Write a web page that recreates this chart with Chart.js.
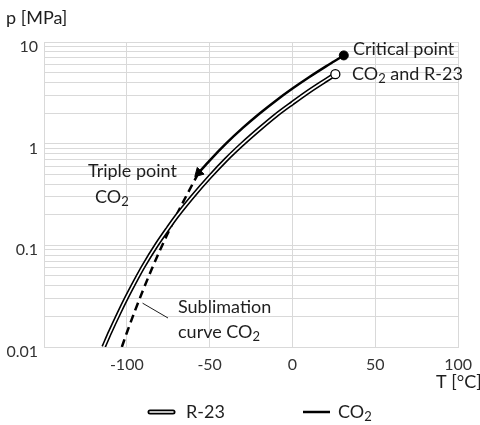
<!DOCTYPE html>
<html>
<head>
<meta charset="utf-8">
<script src="https://cdn.jsdelivr.net/npm/chart.js@4.4.1/dist/chart.umd.min.js"></script>
<style>
  body { margin: 0; background: #fff; }
</style>
</head>
<body>
<canvas id="chart" width="480" height="425"></canvas>
<script>
// vapour pressure curve R-23 (T in °C, p in MPa)
const r23Temp = [-114, -110, -105, -100, -95, -90, -82, -75, -70, -60, -50, -40, -30, -20, -10, 0, 10, 20, 25.9];
const r23Pressure = [0.0100, 0.0141, 0.0211, 0.0309, 0.0442, 0.0621, 0.101, 0.148, 0.192, 0.306, 0.470, 0.699, 0.999, 1.39, 1.90, 2.51, 3.28, 4.19, 4.82];

// vapour pressure curve CO2, triple point -> critical point
const co2Temp = [-56.6, -50, -40, -30, -20, -10, 0, 10, 20, 25, 31.0];
const co2Pressure = [0.518, 0.682, 1.005, 1.428, 1.970, 2.649, 3.485, 4.502, 5.729, 6.43, 7.38];

// sublimation curve CO2
const subTemp = [-103, -100, -95, -90, -85, -80, -75, -70, -65, -60, -56.6];
const subPressure = [0.0100, 0.0138, 0.0229, 0.0369, 0.0581, 0.0894, 0.134, 0.199, 0.287, 0.409, 0.518];

// axes
const xTicks = [-150, -100, -50, 0, 50, 100];
const xTickLabels = ['', '-100', '-50', '0', '50', '100'];
const yMajorTicks = [0.01, 0.1, 1, 10];
const yTickLabels = ['0.01', '0.1', '1', '10'];

const zip = (xs, ys) => xs.map((x, i) => ({ x: x, y: ys[i] }));

// log gridlines at 1..9 of every decade
const yTicks = [];
for (let d = 0; d < yMajorTicks.length - 1; d++) {
    for (let m = 1; m < 10; m++) yTicks.push(+(m * yMajorTicks[d]).toPrecision(3));
}
yTicks.push(yMajorTicks[yMajorTicks.length - 1]);

const TEXT = '#1e1e1e';
const FONT = 'Lato, "Open Sans", sans-serif';

// text with subscripts, parts = [[text, isSub], ...]
function richText(ctx, parts, x, y) {
    parts.forEach(([t, sub]) => {
        ctx.font = (sub ? '13px ' : '18px ') + FONT;
        ctx.fillText(t, x, sub ? y + 5 : y);
        x += ctx.measureText(t).width;
    });
}

const extras = {
    id: 'extras',
    afterDraw(chart) {
        const ctx = chart.ctx;
        const xs = chart.scales.x, ys = chart.scales.y;
        ctx.save();
        ctx.fillStyle = TEXT;
        ctx.textBaseline = 'middle';
        ctx.textAlign = 'left';

        // axis titles
        richText(ctx, [['p [MPa]']], 6, 18);
        richText(ctx, [['T [°C]']], 436, 382);

        // annotations
        richText(ctx, [['Critical point']], 353, 49);
        richText(ctx, [['CO'], ['2', true], [' and R-23']], 352, 74);
        richText(ctx, [['Triple point']], 88, 171);
        richText(ctx, [['CO'], ['2', true]], 95, 197);
        richText(ctx, [['Sublimation']], 178, 307);
        richText(ctx, [['curve CO'], ['2', true]], 178, 332);

        ctx.strokeStyle = TEXT;
        ctx.lineWidth = 1;
        ctx.beginPath();
        ctx.moveTo(xs.getPixelForValue(-90.5), ys.getPixelForValue(0.027));
        ctx.lineTo(168, 318);
        ctx.stroke();

        // legend
        const ly = 412;
        ctx.lineCap = 'round';
        ctx.strokeStyle = '#000';
        ctx.lineWidth = 5;
        ctx.beginPath(); ctx.moveTo(150, ly); ctx.lineTo(173, ly); ctx.stroke();
        ctx.strokeStyle = '#fff';
        ctx.lineWidth = 1.5;
        ctx.beginPath(); ctx.moveTo(150, ly); ctx.lineTo(173, ly); ctx.stroke();
        ctx.lineCap = 'butt';
        ctx.strokeStyle = '#000';
        ctx.lineWidth = 2.5;
        ctx.beginPath(); ctx.moveTo(303, ly); ctx.lineTo(330, ly); ctx.stroke();
        richText(ctx, [['R-23']], 186, ly);
        richText(ctx, [['CO'], ['2', true]], 338, ly);
        ctx.restore();
    }
};

const lastIdx = arr => arr.length - 1;

new Chart(document.getElementById('chart'), {
    type: 'line',
    data: {
        datasets: [
            {
                label: 'Sublimation curve CO₂',
                data: zip(subTemp, subPressure),
                borderColor: '#000',
                borderWidth: 2.5,
                borderDash: [8, 5],
                pointRadius: 0,
                cubicInterpolationMode: 'monotone',
                order: 3
            },
            {
                label: 'R-23',
                data: zip(r23Temp, r23Pressure),
                borderColor: '#000',
                borderWidth: 4.8,
                pointRadius: 0,
                cubicInterpolationMode: 'monotone',
                order: 2
            },
            {
                label: 'R-23 inner',
                data: zip(r23Temp, r23Pressure),
                borderColor: '#fff',
                borderWidth: 1.6,
                pointRadius: c => c.dataIndex === lastIdx(r23Temp) ? 4.5 : 0,
                pointBackgroundColor: '#fff',
                pointBorderColor: '#000',
                pointBorderWidth: 1.3,
                cubicInterpolationMode: 'monotone',
                order: 1
            },
            {
                label: 'CO₂',
                data: zip(co2Temp, co2Pressure),
                borderColor: '#000',
                borderWidth: 2.5,
                pointStyle: c => c.dataIndex === 0 ? 'triangle' : 'circle',
                pointRotation: c => c.dataIndex === 0 ? 225 : 0,
                pointRadius: c => c.dataIndex === 0 ? 5.5 : (c.dataIndex === lastIdx(co2Temp) ? 4.5 : 0),
                pointBackgroundColor: '#000',
                pointBorderColor: '#000',
                pointBorderWidth: 1,
                cubicInterpolationMode: 'monotone',
                order: 0
            }
        ]
    },
    options: {
        responsive: false,
        animation: false,
        layout: { padding: { top: 42, right: 18, bottom: 48, left: 0 } },
        plugins: {
            legend: { display: false },
            tooltip: { enabled: false }
        },
        scales: {
            x: {
                type: 'linear',
                min: -150,
                max: 100,
                afterBuildTicks: s => { s.ticks = xTicks.map(v => ({ value: v })); },
                afterFit: s => { s.height = 30; },
                grid: { color: '#d9d9d9', drawTicks: false },
                border: { color: '#d9d9d9' },
                ticks: {
                    padding: 8,
                    color: '#333',
                    font: { family: FONT, size: 16 },
                    callback: v => xTickLabels[xTicks.indexOf(v)] ?? ''
                }
            },
            y: {
                type: 'logarithmic',
                min: 0.01,
                max: 10,
                afterBuildTicks: s => { s.ticks = yTicks.map(v => ({ value: v })); },
                afterFit: s => { s.width = 44; },
                grid: { color: '#d9d9d9', drawTicks: false },
                border: { color: '#d9d9d9' },
                ticks: {
                    autoSkip: false,
                    padding: 6,
                    labelOffset: 5,
                    color: '#333',
                    font: { family: FONT, size: 16 },
                    callback: v => {
                        const i = yMajorTicks.indexOf(v);
                        return i >= 0 ? yTickLabels[i] : '';
                    }
                }
            }
        }
    },
    plugins: [extras]
});
</script>
</body>
</html>
